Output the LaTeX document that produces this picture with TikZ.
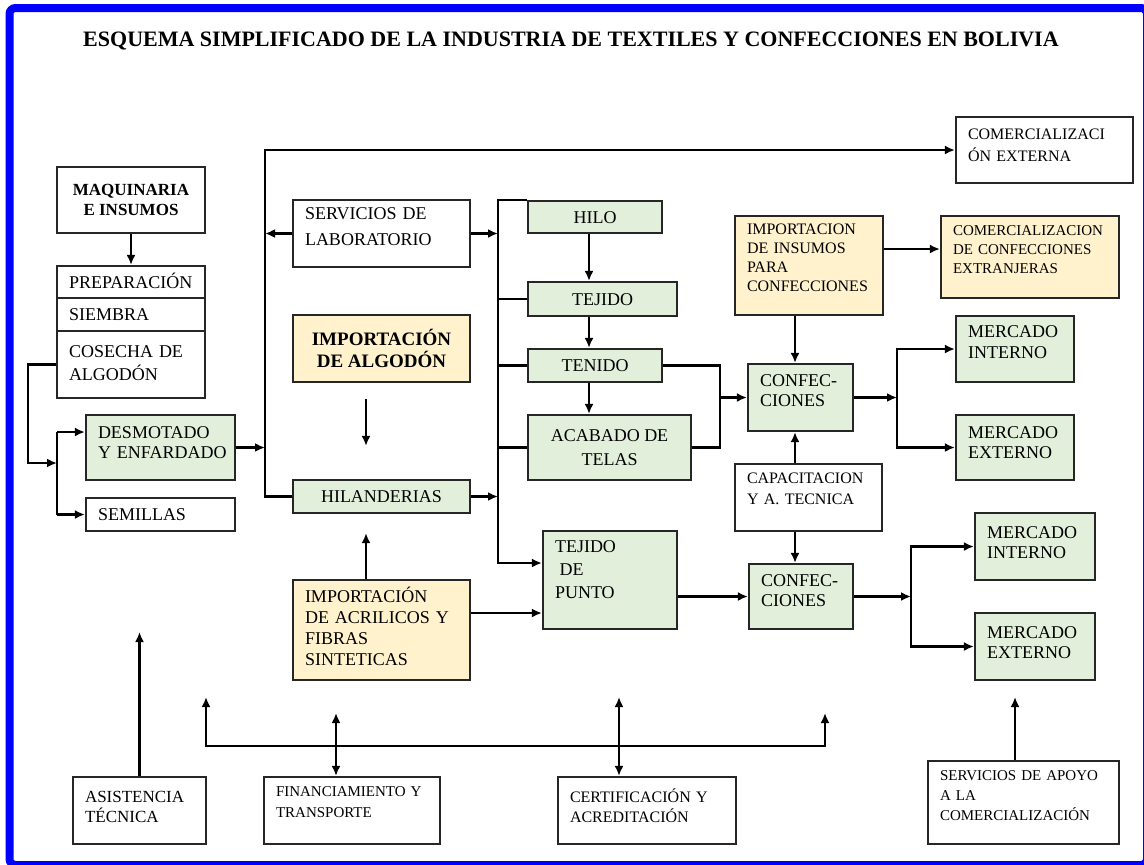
\documentclass[tikz,border=0pt]{standalone}
\usepackage{fontspec}
\setmainfont{Liberation Serif}
\usetikzlibrary{arrows.meta}
\definecolor{verdeclaro}{RGB}{226,239,218}
\definecolor{crema}{RGB}{255,242,204}
\definecolor{marco}{RGB}{0,0,255}

\begin{document}
\begin{tikzpicture}[x=0.5pt,y=-0.5pt,line width=1.1pt,>={Latex[length=5pt,width=4.5pt]},
	caja/.style={draw=black!85,fill=white,inner xsep=6pt,inner ysep=3pt,align=left,font=\fontsize{9}{11}\selectfont},
	cajav/.style={caja,fill=verdeclaro},
	cajan/.style={caja,fill=crema},
	cbox/.style={align=center},
	uno/.style={text height=6pt,text depth=0pt},
	tb/.style 2 args={text height=#1,text depth=#2}]
	\useasboundingbox (0,0) rectangle (1144,864);
	\draw[marco,line width=4pt,rounded corners=3pt] (9.5,8) rectangle (1147,865);
	\node[font=\bfseries\fontsize{11}{13}\selectfont] (titulo) at (571,41) {ESQUEMA SIMPLIFICADO DE LA INDUSTRIA DE TEXTILES Y CONFECCIONES EN BOLIVIA};
	% algodon
	\node[caja,cbox,font=\bfseries\fontsize{8.5}{10}\selectfont,minimum width=74pt,minimum height=33pt] (maq) at (131,200) {MAQUINARIA\\E INSUMOS};
	\node[caja,uno,minimum width=74pt,minimum height=16pt,text width=62pt] (prep) at (131,282) {PREPARACIÓN};
	\node[caja,uno,minimum width=74pt,minimum height=16.5pt,text width=62pt] (siem) at (131,314.5) {SIEMBRA};
	\node[caja,minimum width=74pt,minimum height=33.5pt,text width=62pt,tb={10pt}{17.5pt},font=\fontsize{9}{11.5}\selectfont] (cos) at (131,364.5) {COSECHA DE\\ALGODÓN};
	\node[cajav,minimum width=74.5pt,minimum height=32.5pt,text width=62.5pt,tb={8.5pt}{18pt},font=\fontsize{9}{10}\selectfont] (desm) at (160.5,447.5) {DESMOTADO\\\mbox{Y ENFARDADO}};
	\node[caja,uno,minimum width=74.5pt,minimum height=16.5pt,text width=62.5pt] (sem) at (160.5,514.5) {SEMILLAS};
	% servicios e importacion
	\node[caja,minimum width=88.5pt,minimum height=33.5pt,text width=76.5pt,tb={6.5pt}{21pt},font=\fontsize{9}{13}\selectfont] (lab) at (381.5,233.5) {SERVICIOS DE\\LABORATORIO};
	\node[cajan,cbox,minimum width=88.5pt,minimum height=33.5pt,font=\bfseries\fontsize{9.5}{11}\selectfont] (impalg) at (381.5,348.5) {IMPORTACIÓN\\DE ALGODÓN};
	\node[cajav,cbox,uno,minimum width=88.5pt,minimum height=16.5pt] (hil) at (381.5,496.5) {HILANDERIAS};
	\node[cajan,minimum width=88.5pt,minimum height=50pt,text width=76.5pt,tb={8pt}{36pt},font=\fontsize{9}{10.5}\selectfont] (impacr) at (381.5,630) {IMPORTACIÓN\\\mbox{DE ACRILICOS Y}\\FIBRAS\\SINTETICAS};
	% cadena textil
	\node[cajav,cbox,uno,minimum width=67pt,minimum height=16pt] (hilo) at (595,217) {HILO};
	\node[cajav,cbox,uno,minimum width=74.5pt,minimum height=17pt] (tej) at (602.5,299) {TEJIDO};
	\node[cajav,cbox,uno,minimum width=67pt,minimum height=16.5pt] (ten) at (595,365.5) {TENIDO};
	\node[cajav,cbox,minimum width=81.5pt,minimum height=32.5pt,font=\fontsize{9}{12}\selectfont] (acab) at (609.5,447.5) {ACABADO DE\\TELAS};
	\node[cajav,minimum width=67pt,minimum height=49pt,text width=55pt,tb={7.5pt}{35.5pt},font=\fontsize{9}{11.5}\selectfont] (punto) at (610,580) {TEJIDO\\\hspace*{0.25em}DE\\PUNTO};
	% confecciones
	\node[cajan,minimum width=74pt,minimum height=49.5pt,text width=62pt,tb={6pt}{37.5pt},font=\fontsize{8}{9.5}\selectfont] (impins) at (809,265.5) {IMPORTACION\\DE INSUMOS\\PARA\\CONFECCIONES};
	\node[cajan,minimum width=89pt,minimum height=41pt,text width=77pt,tb={6.5pt}{28.5pt},font=\fontsize{7.5}{9.5}\selectfont] (comconf) at (1030,257) {COMERCIALIZACION\\DE CONFECCIONES\\EXTRANJERAS};
	\node[caja,minimum width=88.5pt,minimum height=33pt,text width=76.5pt,tb={8pt}{19pt},font=\fontsize{8}{11}\selectfont] (comext) at (1044.5,150) {COMERCIALIZACI\\ÓN EXTERNA};
	\node[cajav,minimum width=52.5pt,minimum height=33.5pt,text width=40.5pt,tb={8pt}{19.5pt},font=\fontsize{9}{10}\selectfont] (conf1) at (800.5,397.5) {CONFEC-\\CIONES};
	\node[cajav,minimum width=59pt,minimum height=33pt,text width=47pt,tb={7.5pt}{19.5pt},font=\fontsize{9}{10.5}\selectfont] (mi1) at (1015,349) {MERCADO\\INTERNO};
	\node[cajav,minimum width=59pt,minimum height=32.5pt,text width=47pt,tb={8.5pt}{18pt},font=\fontsize{9}{10}\selectfont] (me1) at (1015,447.5) {MERCADO\\EXTERNO};
	\node[caja,minimum width=73.5pt,minimum height=33.5pt,text width=61.5pt,tb={6.5pt}{21pt},font=\fontsize{8}{10.5}\selectfont] (cap) at (808.5,497.5) {CAPACITACION\\Y A. TECNICA};
	\node[cajav,minimum width=52pt,minimum height=32.5pt,text width=40pt,tb={8pt}{18.5pt},font=\fontsize{9}{10}\selectfont] (conf2) at (801,596.5) {CONFEC-\\CIONES};
	\node[cajav,minimum width=60pt,minimum height=33.5pt,text width=48pt,tb={9.5pt}{18pt},font=\fontsize{9}{10}\selectfont] (mi2) at (1035,546.5) {MERCADO\\INTERNO};
	\node[cajav,minimum width=60pt,minimum height=33.5pt,text width=48pt,tb={9.5pt}{18pt},font=\fontsize{9}{10}\selectfont] (me2) at (1035,646.5) {MERCADO\\EXTERNO};
	% apoyo
	\node[caja,minimum width=66.5pt,minimum height=33.5pt,text width=54.5pt,tb={9.5pt}{18pt},font=\fontsize{8.5}{10}\selectfont] (asis) at (139.5,810.5) {ASISTENCIA\\TÉCNICA};
	\node[caja,minimum width=88pt,minimum height=33.5pt,text width=76pt,tb={6.5pt}{21pt},font=\fontsize{7.5}{10.5}\selectfont] (fin) at (352,810.5) {\mbox{FINANCIAMIENTO Y}\\TRANSPORTE};
	\node[caja,minimum width=89pt,minimum height=33.5pt,text width=77pt,tb={9.5pt}{18pt},font=\fontsize{8}{10}\selectfont] (cert) at (647,810.5) {\mbox{CERTIFICACIÓN Y}\\ACREDITACIÓN};
	\node[caja,minimum width=95.5pt,minimum height=41.5pt,text width=83.5pt,tb={6.5pt}{29pt},font=\fontsize{7.5}{10}\selectfont] (serv) at (1023.5,802.5) {SERVICIOS DE APOYO\\A LA\\COMERCIALIZACIÓN};
	% conexiones del algodon
	\draw[->] (maq) -- (prep);
	\coordinate (ra) at (57,463);
	\coordinate (rc) at (28,463);
	\coordinate (rd) at (57,432);
	\coordinate (rs) at (57,514.5);
	\draw[->] (cos.west) -| (rc) -- (ra);
	\draw (rd) -- (rs);
	\draw[->] (rd) -- (rd -| desm.west);
	\draw[->] (rs) -- (sem.west);
	% primer bus
	\coordinate (ba) at (265,150);
	\draw[->] (hil.west) -| (ba) -- (comext.west);
	\draw[->] (desm.east) -- (desm.east -| ba);
	\draw[->] (lab.west) -- (lab.west -| ba);
	% segundo bus
	\coordinate (ca) at (498,563);
	\draw[->] (hilo.north west) -| (ca) -- (ca -| punto.west);
	\draw (tej.west) -- (tej.west -| ca);
	\draw (ten.west) -- (ten.west -| ca);
	\draw (acab.west) -- (acab.west -| ca);
	\draw[->] (lab.east) -- (lab.east -| ca);
	\draw[->] (hil.east) -- (hil.east -| ca);
	\coordinate (cv) at (589,0);
	\draw[->] (cv |- hilo.south) -- (cv |- tej.north);
	\draw[->] (cv |- tej.south) -- (cv |- ten.north);
	\draw[->] (cv |- ten.south) -- (cv |- acab.north);
	% importaciones
	\coordinate (ia) at (366,0);
	\draw[->,shorten <=8pt,shorten >=16.5pt] (ia |- impalg.south) -- (ia |- hil.north);
	\draw[->,shorten >=9.5pt] (ia |- impacr.north) -- (ia |- hil.south);
	\coordinate (ib) at (0,613);
	\draw[->] (impacr.east |- ib) -- (punto.west |- ib);
	% confecciones
	\coordinate (cm) at (720,397.5);
	\draw (ten.east) -| (cm);
	\draw (acab.east) -| (cm);
	\draw[->] (cm) -- (conf1.west);
	\coordinate (cx) at (795,0);
	\draw[->] (cx |- impins.south) -- (cx |- conf1.north);
	\draw[->] (cx |- cap.north) -- (cx |- conf1.south);
	\draw[->] (cx |- cap.south) -- (cx |- conf2.north);
	\coordinate (iy) at (0,249);
	\draw[->] (impins.east |- iy) -- (comconf.west |- iy);
	\draw[->] (punto.east |- conf2.west) -- (conf2.west);
	% mercados
	\coordinate (ma) at (897,397.5);
	\draw[->] (conf1.east) -- (ma);
	\draw[->] (ma) |- (mi1.west);
	\draw[->] (ma) |- (me1.west);
	\coordinate (mb) at (911,596.5);
	\draw[->] (conf2.east) -- (mb);
	\draw[->] (mb) |- (mi2.west);
	\draw[->] (mb) |- (me2.west);
	% servicios de apoyo
	\coordinate (ea) at (206,697);
	\coordinate (eb) at (825,713);
	\coordinate (er) at (825,746);
	\draw[<->] (ea) |- (er) -- (eb);
	\coordinate (fa) at (0,632);
	\draw[->] (asis.north) -- (asis.north |- fa);
	\coordinate (fb) at (336,713);
	\draw[<->] (fb) -- (fb |- fin.north);
	\coordinate (fc) at (619,697);
	\draw[<->] (fc) -- (fc |- cert.north);
	\coordinate (fd) at (1015,697);
	\draw[->] (fd |- serv.north) -- (fd);
\end{tikzpicture}
\end{document}
